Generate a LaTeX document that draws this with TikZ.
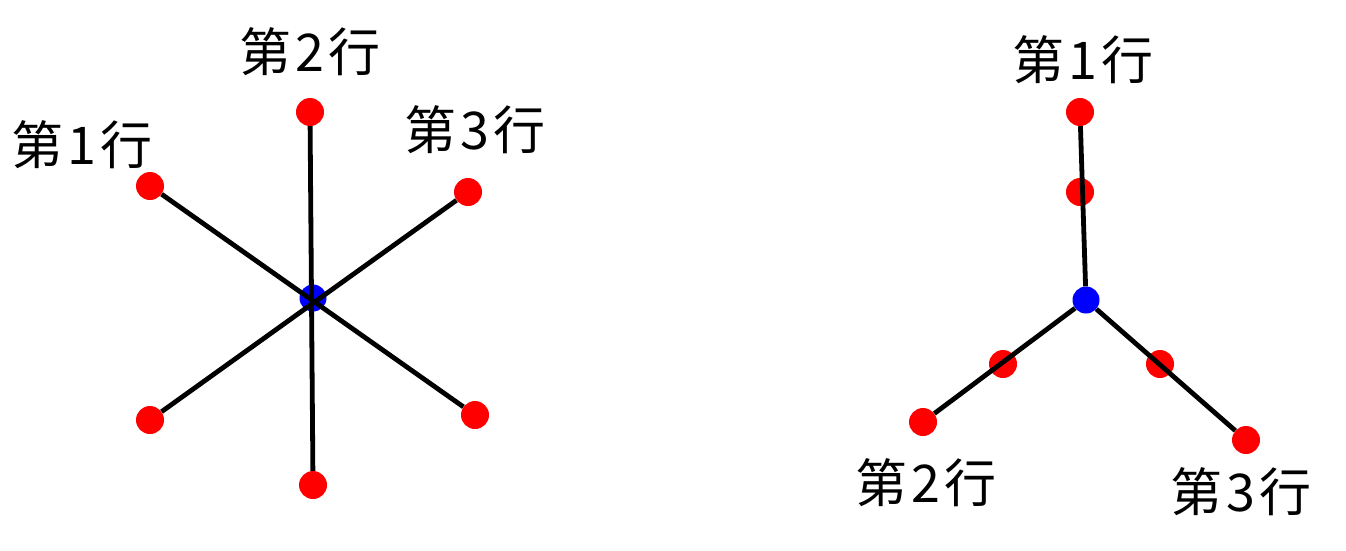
\documentclass[tikz,border=0pt]{standalone}
\usepackage{fontspec}
\newfontfamily\cjk[LetterSpace=8]{Noto Sans CJK SC}
\usepackage{tikz}

\begin{document}
\begin{tikzpicture}[x=1pt, y=-1pt,
		hong/.style={circle, fill=red, minimum size=28pt, inner sep=0pt},
		lan/.style={circle, fill=blue, minimum size=27pt, inner sep=0pt},
		hang/.style={font=\cjk\fontsize{52}{56}\selectfont, inner sep=0pt},
		gan/.style={line width=4.8pt}]
	\useasboundingbox (0,0) rectangle (1346,550);
	% left: three rows through one centre
	\node[lan]  (lc)  at (313,298) {};
	\node[hong] (l1a) at (150,186) {};
	\node[hong] (l1b) at (475,415) {};
	\node[hong] (l2a) at (310,112) {};
	\node[hong] (l2b) at (313,485) {};
	\node[hong] (l3a) at (468,192) {};
	\node[hong] (l3b) at (150,420) {};
	\node[hang] (t1) at (82,145)  {第1行};
	\node[hang] (t2) at (310,52)  {第2行};
	\node[hang] (t3) at (475,130) {第3行};
	\path[gan]
	(l1a) edge (l1b)
	(l2a) edge (l2b)
	(l3a) edge (l3b);
	% right: three rows from one centre
	\node[hong] (r1m) at (1080,192) {};
	\node[hong] (r2m) at (1003,364) {};
	\node[hong] (r3m) at (1160,364) {};
	\node[lan]  (rc)  at (1086,300) {};
	\node[hong] (r1)  at (1080,112) {};
	\node[hong] (r2)  at (923,422)  {};
	\node[hong] (r3)  at (1246,440) {};
	\node[hang] (s1) at (1083,60)  {第1行};
	\node[hang] (s2) at (926,483)  {第2行};
	\node[hang] (s3) at (1241,492) {第3行};
	\path[gan]
	(rc) edge (r1)
	(rc) edge (r2)
	(rc) edge (r3);
\end{tikzpicture}
\end{document}
